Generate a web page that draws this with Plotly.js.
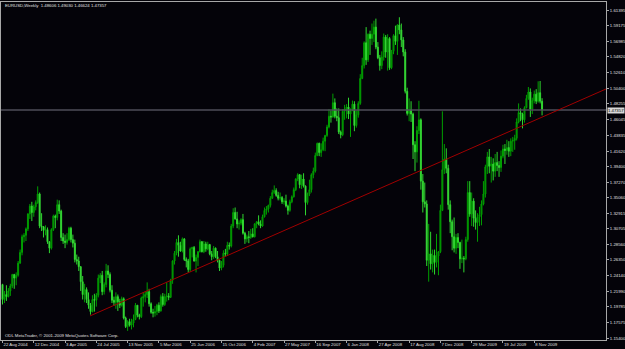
<!DOCTYPE html>
<html><head><meta charset="utf-8">
<script src="https://cdn.plot.ly/plotly-3.0.1.min.js"></script>
<style>html,body{margin:0;padding:0;background:#040309;}#chart{width:625px;height:349px;}</style>
</head><body><div id="chart"></div>
<script>
// Weekly EURUSD candles, 22 Aug 2004 ... Dec 2009 (one entry per week)
const openP = [1.2290,1.2080,1.2150,1.2120,1.2200,1.2270,1.2430,1.2380,1.2420,1.2590,1.2740,1.2960,1.2980,1.3070,1.3280,1.3390,1.3300,1.3380,1.3440,1.3560,1.3110,1.3100,1.3050,1.3060,1.2890,1.2800,1.3060,1.3250,1.3230,1.3410,1.3320,1.2950,1.2900,1.2880,1.2920,1.3080,1.2920,1.2870,1.2640,1.2620,1.2540,1.2330,1.2150,1.2220,1.2080,1.2000,1.1910,1.2080,1.2070,1.2140,1.2380,1.2420,1.2190,1.2290,1.2480,1.2430,1.2210,1.2070,1.2040,1.2120,1.2050,1.2000,1.2090,1.1820,1.1700,1.1770,1.1720,1.1750,1.1800,1.2000,1.1860,1.1840,1.2100,1.2120,1.2150,1.2190,1.2020,1.1900,1.1890,1.1910,1.2000,1.1920,1.2120,1.2010,1.2120,1.2130,1.2110,1.2350,1.2620,1.2730,1.2880,1.2840,1.2760,1.2930,1.2640,1.2620,1.2500,1.2790,1.2810,1.2620,1.2670,1.2750,1.2890,1.2750,1.2860,1.2790,1.2850,1.2720,1.2680,1.2800,1.2680,1.2630,1.2520,1.2560,1.2730,1.2720,1.2840,1.2830,1.3110,1.3300,1.3210,1.3140,1.3150,1.3200,1.3010,1.2930,1.2960,1.2950,1.3000,1.2960,1.3140,1.3170,1.3140,1.3110,1.3240,1.3330,1.3350,1.3400,1.3500,1.3580,1.3610,1.3540,1.3500,1.3510,1.3450,1.3460,1.3390,1.3330,1.3450,1.3520,1.3620,1.3770,1.3830,1.3690,1.3770,1.3670,1.3440,1.3560,1.3620,1.3830,1.3880,1.4100,1.4270,1.4140,1.4180,1.4300,1.4380,1.4500,1.4650,1.4640,1.4840,1.4650,1.4630,1.4430,1.4390,1.4720,1.4750,1.4780,1.4680,1.4730,1.4820,1.4520,1.4670,1.4830,1.5180,1.5360,1.5680,1.5440,1.5800,1.5740,1.5800,1.5900,1.5620,1.5470,1.5360,1.5480,1.5760,1.5550,1.5740,1.5330,1.5560,1.5780,1.5700,1.5930,1.5860,1.5720,1.5550,1.5000,1.4690,1.4740,1.4680,1.4250,1.4150,1.4450,1.4600,1.3740,1.3450,1.3420,1.2630,1.2720,1.2580,1.2700,1.2600,1.2690,1.2750,1.3330,1.3900,1.4050,1.3920,1.3410,1.3170,1.2960,1.2800,1.2950,1.2880,1.2650,1.2660,1.2650,1.2920,1.3580,1.3280,1.3460,1.3220,1.3160,1.3240,1.3270,1.3420,1.3560,1.3940,1.4080,1.3950,1.3980,1.3880,1.4000,1.3960,1.3930,1.4090,1.4190,1.4170,1.4210,1.4160,1.4300,1.4310,1.4340,1.4570,1.4700,1.4680,1.4600,1.4770,1.4900,1.4990,1.4750,1.4870,1.4960,1.4860,1.4980,1.48606];
const highP = [1.2300,1.2200,1.2280,1.2240,1.2300,1.2440,1.2440,1.2460,1.2620,1.2780,1.2990,1.3010,1.3090,1.3290,1.3420,1.3450,1.3410,1.3470,1.3667,1.3580,1.3290,1.3110,1.3120,1.3090,1.2900,1.3080,1.3270,1.3270,1.3480,1.3470,1.3340,1.3010,1.2990,1.3010,1.3100,1.3100,1.2990,1.2920,1.2710,1.2680,1.2550,1.2410,1.2300,1.2250,1.2180,1.2030,1.2140,1.2160,1.2170,1.2430,1.2450,1.2480,1.2320,1.2580,1.2560,1.2460,1.2280,1.2120,1.2180,1.2150,1.2090,1.2120,1.2110,1.1840,1.1790,1.1810,1.1810,1.1870,1.2030,1.2000,1.1880,1.2120,1.2180,1.2190,1.2320,1.2230,1.2040,1.1950,1.1990,1.2020,1.2040,1.2150,1.2170,1.2160,1.2320,1.2170,1.2370,1.2630,1.2760,1.2930,1.2980,1.2890,1.2950,1.2940,1.2670,1.2650,1.2810,1.2820,1.2830,1.2710,1.2760,1.2920,1.2900,1.2900,1.2890,1.2890,1.2860,1.2760,1.2830,1.2810,1.2760,1.2640,1.2620,1.2770,1.2790,1.2890,1.2880,1.3140,1.3360,1.3370,1.3310,1.3190,1.3220,1.3280,1.3030,1.2990,1.3040,1.3070,1.3080,1.3150,1.3180,1.3260,1.3190,1.3270,1.3370,1.3390,1.3410,1.3530,1.3620,1.3680,1.3640,1.3590,1.3580,1.3530,1.3500,1.3550,1.3410,1.3480,1.3540,1.3650,1.3780,1.3850,1.3840,1.3830,1.3850,1.3680,1.3580,1.3760,1.3850,1.3930,1.4140,1.4280,1.4280,1.4270,1.4350,1.4390,1.4530,1.4750,1.4730,1.4967,1.4900,1.4760,1.4760,1.4450,1.4750,1.4810,1.4820,1.4910,1.4760,1.4870,1.4860,1.4730,1.4860,1.5240,1.5470,1.5700,1.5900,1.5810,1.5850,1.5950,1.5990,1.6019,1.5690,1.5510,1.5560,1.5810,1.5790,1.5800,1.5760,1.5580,1.5800,1.5920,1.5940,1.6038,1.5950,1.5760,1.5590,1.5050,1.4900,1.4860,1.4700,1.4300,1.4510,1.4867,1.4620,1.3840,1.3720,1.3470,1.3140,1.3030,1.2780,1.2780,1.3000,1.2760,1.3410,1.4719,1.4260,1.4200,1.3970,1.3470,1.3200,1.3230,1.3000,1.3010,1.2890,1.2920,1.2690,1.2960,1.3740,1.3740,1.3580,1.3500,1.3330,1.3290,1.3380,1.3470,1.3740,1.3970,1.4150,1.4190,1.4080,1.4060,1.4120,1.4150,1.4020,1.4170,1.4250,1.4260,1.4320,1.4300,1.4340,1.4360,1.4390,1.4620,1.4830,1.4760,1.4700,1.4790,1.4950,1.5060,1.5040,1.4910,1.5010,1.5030,1.5140,1.5144,1.49030];
const lowP = [1.2010,1.2030,1.2060,1.2110,1.2130,1.2240,1.2230,1.2280,1.2400,1.2580,1.2700,1.2880,1.2900,1.3040,1.3210,1.3180,1.3240,1.3330,1.3420,1.3080,1.3040,1.2950,1.2980,1.2860,1.2730,1.2780,1.3040,1.3080,1.3190,1.3280,1.2900,1.2860,1.2800,1.2850,1.2900,1.2880,1.2810,1.2600,1.2570,1.2480,1.2200,1.2080,1.2040,1.2030,1.1950,1.1868,1.1900,1.1910,1.1980,1.2110,1.2310,1.2140,1.2150,1.2250,1.2380,1.2180,1.2030,1.1990,1.1950,1.1920,1.1960,1.1980,1.1800,1.1680,1.1640,1.1700,1.1660,1.1690,1.1790,1.1830,1.1800,1.1820,1.1980,1.2040,1.2100,1.1980,1.1880,1.1830,1.1840,1.1860,1.1890,1.1910,1.1980,1.1990,1.2050,1.2070,1.2100,1.2300,1.2570,1.2700,1.2680,1.2750,1.2740,1.2620,1.2530,1.2460,1.2470,1.2670,1.2610,1.2460,1.2550,1.2740,1.2740,1.2730,1.2750,1.2770,1.2700,1.2630,1.2650,1.2660,1.2600,1.2480,1.2490,1.2530,1.2680,1.2700,1.2780,1.2810,1.3080,1.3200,1.3080,1.3060,1.3120,1.2990,1.2860,1.2880,1.2870,1.2930,1.2950,1.2950,1.3080,1.3120,1.3080,1.3100,1.3230,1.3270,1.3300,1.3370,1.3490,1.3560,1.3520,1.3470,1.3470,1.3420,1.3410,1.3370,1.3270,1.3310,1.3430,1.3510,1.3600,1.3740,1.3640,1.3630,1.3650,1.3260,1.3410,1.3530,1.3580,1.3780,1.3860,1.4090,1.4090,1.4080,1.4160,1.4160,1.4360,1.4480,1.4560,1.4630,1.4620,1.4580,1.4400,1.4340,1.4370,1.4600,1.4620,1.4610,1.4360,1.4720,1.4440,1.4490,1.4630,1.4810,1.5170,1.5320,1.5370,1.5410,1.5510,1.5650,1.5690,1.5590,1.5450,1.5290,1.5310,1.5430,1.5470,1.5290,1.5300,1.5310,1.5520,1.5650,1.5510,1.5800,1.5620,1.5490,1.4970,1.4660,1.4580,1.4570,1.4050,1.3880,1.4000,1.4400,1.3620,1.3300,1.3370,1.2550,1.2330,1.2500,1.2460,1.2430,1.2530,1.2420,1.2730,1.3320,1.3840,1.3850,1.3340,1.3010,1.2770,1.2740,1.2720,1.2800,1.2510,1.2590,1.2460,1.2630,1.2890,1.3240,1.3110,1.3100,1.3060,1.2890,1.3110,1.3120,1.3400,1.3510,1.3840,1.3850,1.3720,1.3750,1.3800,1.3880,1.3800,1.3870,1.4060,1.3980,1.4110,1.4080,1.4090,1.4150,1.4180,1.4310,1.4550,1.4580,1.4480,1.4560,1.4760,1.4880,1.4640,1.4680,1.4830,1.4820,1.4840,1.4830,1.46624];
const closeP = [1.2080,1.2150,1.2120,1.2200,1.2270,1.2430,1.2380,1.2420,1.2590,1.2740,1.2960,1.2980,1.3070,1.3280,1.3390,1.3300,1.3380,1.3440,1.3560,1.3110,1.3100,1.3050,1.3060,1.2890,1.2800,1.3060,1.3250,1.3230,1.3410,1.3320,1.2950,1.2900,1.2880,1.2920,1.3080,1.2920,1.2870,1.2640,1.2620,1.2540,1.2330,1.2150,1.2220,1.2080,1.2000,1.1910,1.2080,1.2070,1.2140,1.2380,1.2420,1.2190,1.2290,1.2480,1.2430,1.2210,1.2070,1.2040,1.2120,1.2050,1.2000,1.2090,1.1820,1.1700,1.1770,1.1720,1.1750,1.1800,1.2000,1.1860,1.1840,1.2100,1.2120,1.2150,1.2190,1.2020,1.1900,1.1890,1.1910,1.2000,1.1920,1.2120,1.2010,1.2120,1.2130,1.2110,1.2350,1.2620,1.2730,1.2880,1.2840,1.2760,1.2930,1.2640,1.2620,1.2500,1.2790,1.2810,1.2620,1.2670,1.2750,1.2890,1.2750,1.2860,1.2790,1.2850,1.2720,1.2680,1.2800,1.2680,1.2630,1.2520,1.2560,1.2730,1.2720,1.2840,1.2830,1.3110,1.3300,1.3210,1.3140,1.3150,1.3200,1.3010,1.2930,1.2960,1.2950,1.3000,1.2960,1.3140,1.3170,1.3140,1.3110,1.3240,1.3330,1.3350,1.3400,1.3500,1.3580,1.3610,1.3540,1.3500,1.3510,1.3450,1.3460,1.3390,1.3330,1.3450,1.3520,1.3620,1.3770,1.3830,1.3690,1.3770,1.3670,1.3440,1.3560,1.3620,1.3830,1.3880,1.4100,1.4270,1.4140,1.4180,1.4300,1.4380,1.4500,1.4650,1.4640,1.4840,1.4650,1.4630,1.4430,1.4390,1.4720,1.4750,1.4780,1.4680,1.4730,1.4820,1.4520,1.4670,1.4830,1.5180,1.5360,1.5680,1.5440,1.5800,1.5740,1.5800,1.5900,1.5620,1.5470,1.5360,1.5480,1.5760,1.5550,1.5740,1.5330,1.5560,1.5780,1.5700,1.5930,1.5860,1.5720,1.5550,1.5000,1.4690,1.4740,1.4680,1.4250,1.4150,1.4450,1.4600,1.3740,1.3450,1.3420,1.2630,1.2720,1.2580,1.2700,1.2600,1.2690,1.2750,1.3330,1.3900,1.4050,1.3920,1.3410,1.3170,1.2960,1.2800,1.2950,1.2880,1.2650,1.2660,1.2650,1.2920,1.3580,1.3280,1.3460,1.3220,1.3160,1.3240,1.3270,1.3420,1.3560,1.3940,1.4080,1.3950,1.3980,1.3880,1.4000,1.3960,1.3930,1.4090,1.4190,1.4170,1.4210,1.4160,1.4300,1.4310,1.4340,1.4570,1.4700,1.4680,1.4600,1.4770,1.4900,1.4990,1.4750,1.4870,1.4960,1.4860,1.4980,1.4860,1.47357];

// Date labels on the time axis (one every 16 weeks)
const dateLabels = ["22 Aug 2004","12 Dec 2004","3 Apr 2005","24 Jul 2005","13 Nov 2005","5 Mar 2006","25 Jun 2006","15 Oct 2006","4 Feb 2007","27 May 2007","16 Sep 2007","6 Jan 2008","27 Apr 2008","17 Aug 2008","7 Dec 2008","29 Mar 2009","19 Jul 2009","8 Nov 2009"];
const dateLabelWeeks = [0,16,32,48,64,80,96,112,128,144,160,176,192,208,224,240,256,272];

// Price scale labels
const priceLabels = ["1.61395","1.59175","1.56985","1.54820","1.52610","1.50400","1.48255","1.46045","1.43835","1.41620","1.39400","1.37270","1.35060","1.32915","1.30705","1.28560","1.26350","1.24140","1.21990","1.19785","1.17575","1.15400"];

// Trend line (drawn by the trader) and current bid
const trendWeek = [44.8, 308.7];
const trendPrice = [1.1850, 1.5032];
const bidPrice = 1.47357;
const headerText = "EURUSD,Weekly  1.48606 1.49030 1.46624 1.47357";
const footerText = "ODL MetaTrader, \u00a9 2001-2009 MetaQuotes Software Corp.";

const weeks = openP.map((_, i) => i);
const xr = [-0.77, 308.7];
const small = {family: "Liberation Sans, Arial, sans-serif", size: 4.3, color: "#e0e0e0"};

const traces = [
  {type: "scatter", mode: "lines", x: xr, y: [bidPrice, bidPrice],
   line: {color: "#4e4e58", width: 1.5}, hoverinfo: "skip"},
  {type: "candlestick", x: weeks, open: openP, high: highP, low: lowP, close: closeP,
   increasing: {line: {color: "#00a000", width: 1}, fillcolor: "#007400"},
   decreasing: {line: {color: "#30d830", width: 1}, fillcolor: "#60f060"},
   whiskerwidth: 0, hoverinfo: "skip"},
  {type: "scatter", mode: "lines", x: trendWeek, y: trendPrice,
   line: {color: "#a00000", width: 1}, hoverinfo: "skip"}
];

const layout = {
  width: 625, height: 349,
  margin: {l: 1, r: 19, t: 2, b: 9, pad: 0},
  paper_bgcolor: "#040309", plot_bgcolor: "#040309",
  showlegend: false,
  xaxis: {range: xr, tickmode: "array", tickvals: dateLabelWeeks, ticktext: dateLabels,
    tickangle: 0, ticks: "outside", ticklen: 2, tickcolor: "#a8a8a8", tickwidth: 1,
    ticklabelposition: "outside right", tickfont: small,
    showline: true, linecolor: "#a8a8a8", linewidth: 1, mirror: true,
    showgrid: false, zeroline: false, rangeslider: {visible: false}, fixedrange: true},
  yaxis: {side: "right", range: [1.1512, 1.6252], tickmode: "array",
    tickvals: priceLabels.map(Number), ticktext: priceLabels,
    ticks: "outside", ticklen: 2, tickcolor: "#a8a8a8", tickwidth: 1, tickfont: small,
    showline: true, linecolor: "#a8a8a8", linewidth: 1, mirror: true,
    showgrid: false, zeroline: false, fixedrange: true},
  annotations: [
    {xref: "paper", yref: "paper", x: 0, y: 0.991, xanchor: "left", yanchor: "middle",
     xshift: 2, text: headerText, showarrow: false, font: small},
    {xref: "paper", yref: "paper", x: 0, y: 0.012, xanchor: "left", yanchor: "middle",
     xshift: 2, text: footerText, showarrow: false, font: small},
    {xref: "paper", yref: "y", x: 1, y: bidPrice, xanchor: "left", yanchor: "middle",
     xshift: 1, text: String(bidPrice.toFixed(5)), showarrow: false,
     bgcolor: "#d8d8d8", borderpad: 0,
     font: {family: small.family, size: 4.3, color: "#000000"}}
  ]
};

Plotly.newPlot("chart", traces, layout, {staticPlot: true, displayModeBar: false});
</script></body></html>
